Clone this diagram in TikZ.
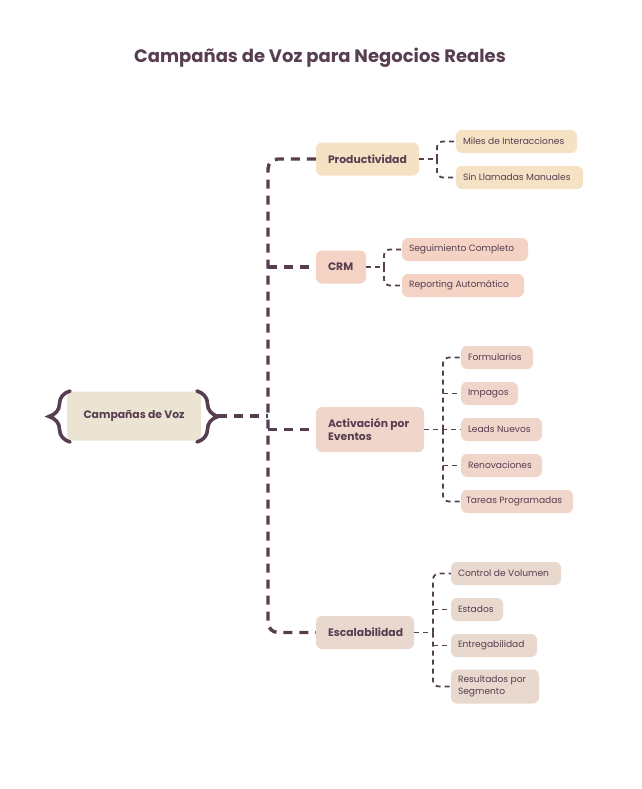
\documentclass[tikz,border=0pt]{standalone}
\usepackage{fontspec}
\setmainfont{Poppins}
\usetikzlibrary{decorations.pathreplacing}
\definecolor{plum}{HTML}{573E50}
\definecolor{rootfill}{HTML}{ECE4D3}
\definecolor{prodfill}{HTML}{F5E1C4}
\definecolor{crmfill}{HTML}{F4D2C4}
\definecolor{actfill}{HTML}{F0D5CA}
\definecolor{escfill}{HTML}{E8D8CE}
\begin{document}
\begin{tikzpicture}[x=1pt,y=-1pt,
    box/.style={rounded corners=6pt,text=plum,inner ysep=0pt,align=flush left},
    main/.style={box,font=\fontsize{10.8}{13}\selectfont\bfseries,minimum height=33pt,
      inner xsep=12pt,text width=#1},
    leaf/.style={box,font=\fontsize{9.1}{12}\selectfont,minimum height=23pt,
      inner xsep=7pt,text width=#1},
    trunk/.style={draw=plum,line width=3.4pt,dash pattern=on 9pt off 7pt},
    twig/.style={draw=plum,line width=1.8pt,dash pattern=on 5pt off 4pt,rounded corners=6pt},
    curly/.style={draw=plum,line width=3.6pt,line cap=round,decorate,
      decoration={brace,amplitude=21pt}}]
  \useasboundingbox (0,0) rectangle (641,789);
  \node[text=plum,font=\fontsize{18}{22}\selectfont\bfseries] (title) at (320,58)
    {Campañas de Voz para Negocios Reales};
  % root
  \node[rounded corners=6pt,text=plum,fill=rootfill,minimum width=134pt,minimum height=49pt,
    font=\fontsize{10.8}{13}\selectfont\bfseries] (root) at (134,416) {Campañas de Voz};
  \draw[curly] (70,442) -- (70,391);
  \draw[curly] (197,391) -- (197,442);
  \coordinate (tip) at (218,416);
  \coordinate (spine) at (268,416);
  % main branches
  \node[main=79pt,fill=prodfill] (prod) at (367.5,159) {Productividad};
  \node[main=26pt,fill=crmfill] (crm) at (341,267) {CRM};
  \node[main=84pt,fill=actfill,minimum height=45pt] (act) at (370,429.5)
    {Activación por\\Eventos};
  \node[main=74pt,fill=escfill] (esc) at (365,632.5) {Escalabilidad};
  % leaves
  \node[leaf=107pt,fill=prodfill] (miles) at (516.5,141.5) {Miles de Interacciones};
  \node[leaf=113pt,fill=prodfill] (sin) at (519.5,177.5) {Sin Llamadas Manuales};
  \node[leaf=112pt,fill=crmfill] (seg) at (465,249.5) {Seguimiento Completo};
  \node[leaf=108pt,fill=crmfill] (rep) at (463,285.5) {Reporting Automático};
  \node[leaf=58pt,fill=actfill] (form) at (497,357.5) {Formularios};
  \node[leaf=43pt,fill=actfill] (imp) at (489.5,393.5) {Impagos};
  \node[leaf=67pt,fill=actfill] (leads) at (501.5,429.5) {Leads Nuevos};
  \node[leaf=67pt,fill=actfill] (ren) at (501.5,465.5) {Renovaciones};
  \node[leaf=102pt,fill=actfill,inner xsep=5pt] (tar) at (517,501.5) {Tareas Programadas};
  \node[leaf=96pt,fill=escfill] (vol) at (506,573.5) {Control de Volumen};
  \node[leaf=38pt,fill=escfill] (est) at (477,609.5) {Estados};
  \node[leaf=72pt,fill=escfill] (ent) at (494,645.5) {Entregabilidad};
  \node[leaf=74pt,fill=escfill,minimum height=34pt] (res) at (495,686.5)
    {Resultados por\\Segmento};
  % trunk
  \begin{scope}[trunk]
    \draw (tip) -- (spine);
    \draw[rounded corners=10pt] (prod.west) -| (spine) |- (esc.west);
    \draw (spine |- crm.west) -- (crm.west);
    \draw (spine |- act.west) -- (act.west);
  \end{scope}
  % twigs
  \coordinate (pj) at (437,159);
  \coordinate (cj) at (384,267);
  \coordinate (aj) at (443,429.5);
  \coordinate (ej) at (433,632.5);
  \begin{scope}[twig]
    \draw (prod.east) -- (pj);
    \draw (pj) |- (miles.west);
    \draw (pj) |- (sin.west);
    \draw (crm.east) -- (cj);
    \draw (cj) |- (seg.west);
    \draw (cj) |- (rep.west);
    \draw (act.east) -- (leads.west);
    \draw (aj) |- (form.west);
    \draw (aj |- imp.west) -- (imp.west);
    \draw (aj |- ren.west) -- (ren.west);
    \draw (aj) |- (tar.west);
    \draw (esc.east) -- (ej);
    \draw (ej) |- (vol.west);
    \draw (ej |- est.west) -- (est.west);
    \draw (ej |- ent.west) -- (ent.west);
    \draw (ej) |- (res.west);
  \end{scope}
\end{tikzpicture}
\end{document}
